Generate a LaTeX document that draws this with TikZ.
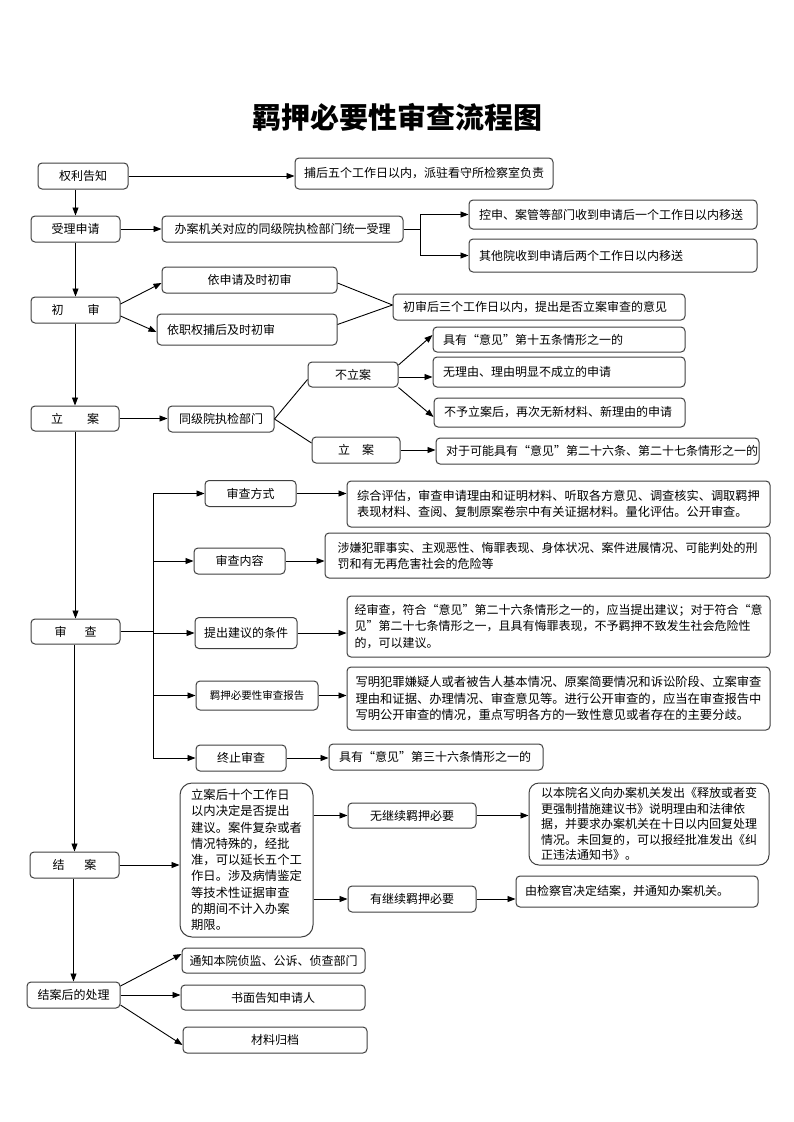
\documentclass[tikz,border=0pt]{standalone}
\usepackage{fontspec}
\setmainfont{Noto Sans CJK SC}
\usetikzlibrary{arrows.meta,calc}
\newcommand{\ltxt}[2]{\makebox[#1pt][l]{#2}}
\tikzset{
  box/.style={draw=black!75, line width=1, rounded corners=4, fill=white, inner sep=0pt,
    font=\fontsize{12}{15}\selectfont, text=black},
  arr/.style={-{Triangle[length=8pt,width=6pt]}, line width=0.9, draw=black},
  ln/.style={line width=0.9, draw=black},
}
\begin{document}
\begin{tikzpicture}[x=1pt,y=-1pt]
\useasboundingbox (0,0) rectangle (793,1122);
\fill[white] (0,0) rectangle (793,1122);

\node[font=\fontsize{29}{32}\selectfont\bfseries] (title) at (397,117) {羁押必要性审查流程图};

\node[box, minimum width=90, minimum height=26] (qlgz) at (83,176) {权利告知};
\node[box, minimum width=258, minimum height=31] (bh) at (424,173.5) {捕后五个工作日以内，派驻看守所检察室负责};
\node[box, minimum width=89, minimum height=26] (slsq) at (75.5,229) {受理申请};
\node[box, minimum width=241, minimum height=26] (ba) at (282.5,229) {办案机关对应的同级院执检部门统一受理};
\node[box, minimum width=288, minimum height=29] (ks) at (613,214.5) {\ltxt{268}{控申、案管等部门收到申请后一个工作日以内移送}};
\node[box, minimum width=288, minimum height=33] (qt) at (613,255.5) {\ltxt{268}{其他院收到申请后两个工作日以内移送}};
\node[box, minimum width=175, minimum height=26] (ysq) at (249.5,280) {依申请及时初审};
\node[box, minimum width=89, minimum height=26] (cs) at (75.5,310) {初\hspace{24pt}审};
\node[box, minimum width=292, minimum height=26] (csh) at (539,307) {\ltxt{272}{初审后三个工作日以内，提出是否立案审查的意见}};
\node[box, minimum width=180, minimum height=31] (yzq) at (247,329.5) {\ltxt{160}{依职权捕后及时初审}};
\node[box, minimum width=252, minimum height=25] (j15) at (559,339.5) {\ltxt{232}{具有“意见”第十五条情形之一的}};
\node[box, minimum width=252, minimum height=30] (wly) at (559,372) {\ltxt{232}{无理由、理由明显不成立的申请}};
\node[box, minimum width=90, minimum height=25] (bla) at (353,374.5) {不立案};
\node[box, minimum width=251, minimum height=29] (byla) at (559.5,412.5) {\ltxt{231}{不予立案后，再次无新材料、新理由的申请}};
\node[box, minimum width=88, minimum height=25] (la) at (75,418.5) {立\hspace{24pt}案};
\node[box, minimum width=106, minimum height=26] (tjy) at (221,419) {同级院执检部门};
\node[box, minimum width=88, minimum height=26] (la2) at (356,450) {立\hspace{12pt}案};
\node[box, minimum width=323, minimum height=26] (dy) at (597.5,451) {\ltxt{303}{对于可能具有“意见”第二十六条、第二十七条情形之一的}};

\node[box, minimum width=89, minimum height=25] (sc) at (75.5,631.5) {审\hspace{18pt}查};
\node[box, minimum width=91, minimum height=26] (scfs) at (250.5,493.5) {审查方式};
\node[box, minimum width=423, minimum height=46, align=left, font=\fontsize{12.2}{16}\selectfont] (zh) at (558.5,504) {综合评估，审查申请理由和证明材料、听取各方意见、调查核实、调取羁押\\表现材料、查阅、复制原案卷宗中有关证据材料。量化评估。公开审查。};
\node[box, minimum width=91, minimum height=26] (scnr) at (239.5,561) {审查内容};
\node[box, minimum width=445, minimum height=45, align=left, font=\fontsize{12}{16}\selectfont] (sx) at (547.5,555.5) {涉嫌犯罪事实、主观恶性、悔罪表现、身体状况、案件进展情况、可能判处的刑\\罚和有无再危害社会的危险等};
\node[box, minimum width=102, minimum height=31] (tcjy) at (246,633) {提出建议的条件};
\node[box, minimum width=423, minimum height=61, align=left, font=\fontsize{12}{16.5}\selectfont] (jsc) at (558.5,626.5) {经审查，符合“意见”第二十六条情形之一的，应当提出建议；对于符合“意\\见”第二十七条情形之一，且具有悔罪表现，不予羁押不致发生社会危险性\\的，可以建议。};
\node[box, minimum width=122, minimum height=29, font=\fontsize{10.5}{12}\selectfont] (bg) at (257,695.5) {羁押必要性审查报告};
\node[box, minimum width=423, minimum height=63, align=left, font=\fontsize{12.3}{16.5}\selectfont] (xm) at (558.5,698.5) {写明犯罪嫌疑人或者被告人基本情况、原案简要情况和诉讼阶段、立案审查\\理由和证据、办理情况、审查意见等。进行公开审查的，应当在审查报告中\\写明公开审查的情况，重点写明各方的一致性意见或者存在的主要分歧。};
\node[box, minimum width=90, minimum height=26] (zz) at (241,758) {终止审查};
\node[box, minimum width=214, minimum height=26] (j36) at (436,757) {\ltxt{194}{具有“意见”第三十六条情形之一的}};

\node[box, minimum width=89, minimum height=26] (ja) at (74.5,865) {结\hspace{20pt}案};
\node[box, rounded corners=12, minimum width=133, minimum height=154, align=left, font=\fontsize{12.3}{16.3}\selectfont] (big) at (246.5,860) {立案后十个工作日\\以内决定是否提出\\建议。案件复杂或者\\情况特殊的，经批\\准，可以延长五个工\\作日。涉及病情鉴定\\等技术性证据审查\\的期间不计入办案\\期限。};
\node[box, minimum width=128, minimum height=25] (wjx) at (412,815.5) {无继续羁押必要};
\node[box, minimum width=128, minimum height=26] (yjx) at (412,899) {有继续羁押必要};
\node[box, rounded corners=10, minimum width=240, minimum height=82, align=left, font=\fontsize{12}{15.5}\selectfont] (ybm) at (649,824) {以本院名义向办案机关发出《释放或者变\\更强制措施建议书》说明理由和法律依\\据，并要求办案机关在十日以内回复处理\\情况。未回复的，可以报经批准发出《纠\\正违法通知书》。};
\node[box, minimum width=242, minimum height=31] (yjc) at (637,891.5) {\ltxt{224}{由检察官决定结案，并通知办案机关。}};

\node[box, minimum width=93, minimum height=26] (jah) at (73.5,995) {结案后的处理};
\node[box, minimum width=183, minimum height=25] (tz) at (273.5,960.5) {通知本院侦监、公诉、侦查部门};
\node[box, minimum width=184, minimum height=25] (sm) at (273,997.5) {书面告知申请人};
\node[box, minimum width=184, minimum height=26] (cl) at (275,1040) {材料归档};

% connectors
\draw[arr] (qlgz.east) -- (qlgz.east -| bh.west);
\draw[arr] (slsq.north |- qlgz.south) -- (slsq.north);
\draw[arr] (slsq.east) -- (ba.west);
\coordinate (br) at (420,229);
\draw[ln] (ba.east) -- (br);
\draw[ln] (br |- ks.west) -- (br |- qt.west);
\draw[arr] (br |- ks.west) -- (ks.west);
\draw[arr] (br |- qt.west) -- (qt.west);
\draw[arr] (cs.north |- slsq.south) -- (cs.north);
\draw[arr] ([yshift=6]cs.east) -- ([yshift=-3]ysq.west);
\draw[arr] ([yshift=-6]cs.east) -- ([yshift=-2.5]yzq.west);
\draw[ln] ([yshift=-3]ysq.east) -- ([yshift=2]csh.west);
\draw[ln] ([yshift=5]yzq.east) -- ([yshift=2]csh.west);
\draw[arr] (la.north |- cs.south) -- (la.north);
\draw[arr] (la.east) -- (la.east -| tjy.west);
\draw[ln] (tjy.east) -- ([yshift=-5]bla.west);
\draw[ln] (tjy.east) -- ([yshift=7]la2.west);
\draw[arr] ([yshift=9.5]bla.east) -- ([yshift=4.5]j15.west);
\draw[arr] ([yshift=-2.5]bla.east) -- ([yshift=-2.5]bla.east -| wly.west);
\draw[arr] (bla.south east) -- ([yshift=-4.5]byla.west);
\draw[arr] (la2.east) -- (la2.east -| dy.west);
\draw[arr] (sc.north |- la.south) -- (sc.north);
\coordinate (bt) at (153,493.5);
\coordinate (bb) at (153,758);
\draw[ln] (sc.east) -- (sc.east -| bt);
\draw[ln] (bt) -- (bb);
\foreach \n in {scfs,scnr,tcjy,bg,zz} \draw[arr] (\n.west -| bt) -- (\n.west);
\draw[arr] (scfs.east) -- (scfs.east -| zh.west);
\draw[arr] (scnr.east) -- (scnr.east -| sx.west);
\draw[arr] (tcjy.east) -- (tcjy.east -| jsc.west);
\draw[arr] (bg.east) -- (bg.east -| xm.west);
\draw[arr] (zz.east) -- (zz.east -| j36.west);
\draw[arr] (ja.north |- sc.south) -- (ja.north);
\draw[arr] (ja.east) -- (ja.east -| big.west);
\draw[arr] (wjx.west -| big.east) -- (wjx.west);
\draw[arr] (yjx.west -| big.east) -- (yjx.west);
\draw[arr] (wjx.east) -- (wjx.east -| ybm.west);
\draw[arr] (yjx.east) -- (yjx.east -| yjc.west);
\draw[arr] (jah.north |- ja.south) -- (jah.north);
\draw[arr] ([yshift=9]jah.east) -- ([yshift=6.5]tz.west);
\draw[arr] (jah.east) -- (jah.east -| sm.west);
\draw[arr] ([yshift=-10]jah.east) -- ([yshift=-5]cl.west);
\end{tikzpicture}
\end{document}
